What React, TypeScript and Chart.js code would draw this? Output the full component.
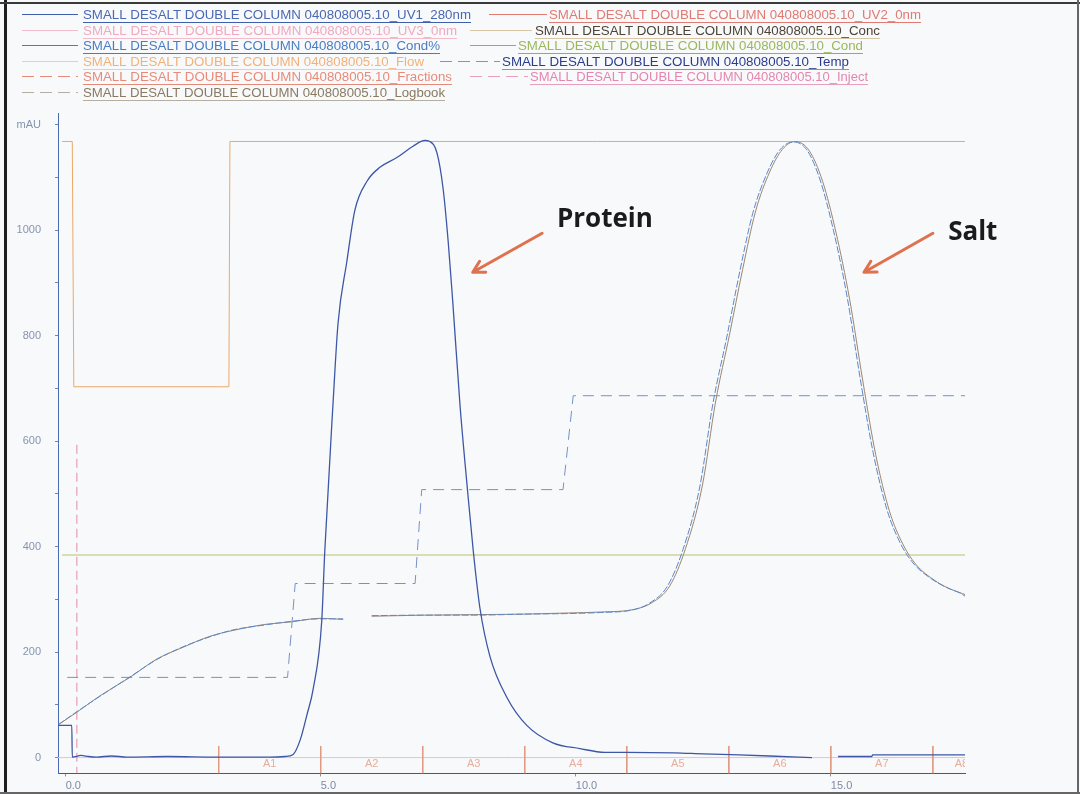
import React, { useEffect, useRef } from 'react';
import { Chart, registerables } from 'chart.js';

Chart.register(...registerables);

// ---------- data (x in ml, y in mAU) ----------
const uv1X = [-0.15, 0.12, 0.13, 0.3, 0.45, 0.6, 0.9, 1.2, 2.0, 3.0, 4.0, 4.3, 4.46, 4.6, 4.73, 4.85, 5.02, 5.08, 5.24, 5.34, 5.51, 5.67, 5.91, 6.16, 6.5, 6.81, 7.04, 7.14, 7.28, 7.4, 7.5, 7.59, 7.73, 7.87, 7.99, 8.12, 8.32, 8.65, 9.04, 9.55, 10.08, 10.57, 11.0, 11.93, 12.5, 13.2, 13.8, 14.63, 14.64, 15.14, 15.8, 15.82, 17.63];
const uv1Y = [61, 61, 1, 4, 2, 1, 3, 1, 2, 1, 1, 2, 6, 34, 81, 129, 259, 392, 669, 824, 939, 1038, 1093, 1119, 1138, 1159, 1170, 1168, 1146, 1078, 977, 862, 669, 515, 392, 284, 191, 114, 61, 28, 17, 10, 10, 9, 7, 5, 3, 0, null, 2, 2, 5, 5];

const condPctX = [-0.15, 0.22, 0.67, 1.26, 1.79, 2.3, 2.83, 3.28, 3.95, 4.4, 4.99, 5.44, 5.45, 6.0, 7.0, 8.0, 9.0, 9.8, 10.48, 11.12, 11.45, 11.79, 12.1, 12.43, 12.69, 12.96, 13.22, 13.47, 13.75, 14.0, 14.26, 14.53, 14.79, 15.05, 15.32, 15.58, 15.83, 16.1, 16.36, 16.61, 17.0, 17.28, 17.53, 17.63];
const condPctY = [62, 87, 116, 153, 186, 210, 229, 242, 252, 258, 263, 263, null, 269, 270, 270, 272, 273, 275, 280, 293, 324, 394, 513, 672, 797, 924, 1032, 1108, 1152, 1167, 1152, 1095, 1000, 873, 716, 578, 470, 407, 369, 337, 322, 312, 306];

const concX = [-0.15, 0.22, 0.67, 1.26, 1.79, 2.3, 2.83, 3.28, 3.95, 4.4, 4.99, 5.44, 5.45, 6.0, 7.0, 8.0, 9.0, 9.8, 10.5, 11.15, 11.5, 11.84, 12.15, 12.48, 12.74, 13.01, 13.27, 13.52, 13.8, 14.05, 14.3, 14.58, 14.84, 15.1, 15.37, 15.63, 15.88, 16.15, 16.41, 16.66, 17.05, 17.33, 17.58, 17.63];
const concY = [62, 86, 117, 152, 187, 209, 230, 241, 253, 257, 264, 262, null, 268, 270, 271, 272, 274, 276, 281, 294, 325, 396, 515, 674, 800, 925, 1034, 1110, 1153, 1168, 1150, 1092, 996, 868, 712, 574, 467, 405, 367, 335, 320, 311, 309];

const condX = [-0.07, 17.63];
const condY = [384, 384];

const flowX = [-0.07, 0.13, 0.16, 3.06, 3.2, 3.22, 17.63];
const flowY = [1168, 1168, 703, 703, 703, 1168, 1168];

const tempX = [0.03, 4.35, 4.5, 6.85, 6.98, 9.75, 9.95, 17.63];
const tempY = [152, 152, 330, 330, 508, 508, 686, 686];

const injectX = [0.22, 0.22];
const injectY = [593, -30];

const uv2X = [-0.15, 17.63];
const uv2Y = [0, 0];

const fractionTicks = [3, 5, 7, 9, 11, 13, 15, 17];
const fractionTickTop = 22;
const fractionTickBottom = -30;
const fractionLabels = ['A1', 'A2', 'A3', 'A4', 'A5', 'A6', 'A7', 'A8'];
const fractionLabelX = [4, 6, 8, 10, 12, 14, 16, 17.56];
const fractionLabelY = -13;

const xTickValues = [0, 5, 10, 15];
const xTickLabels = ['0.0', '5.0', '10.0', '15.0'];
const yTickValues = [0, 100, 200, 300, 400, 500, 600, 700, 800, 900, 1000, 1100, 1200];
const yTickLabels = ['0', '', '200', '', '400', '', '600', '', '800', '', '1000', '', 'mAU'];

const legendLeftNames = [
  'SMALL DESALT DOUBLE COLUMN 040808005.10_UV1_280nm',
  'SMALL DESALT DOUBLE COLUMN 040808005.10_UV3_0nm',
  'SMALL DESALT DOUBLE COLUMN 040808005.10_Cond%',
  'SMALL DESALT DOUBLE COLUMN 040808005.10_Flow',
  'SMALL DESALT DOUBLE COLUMN 040808005.10_Fractions',
  'SMALL DESALT DOUBLE COLUMN 040808005.10_Logbook',
];
const legendRightNames = [
  'SMALL DESALT DOUBLE COLUMN 040808005.10_UV2_0nm',
  'SMALL DESALT DOUBLE COLUMN 040808005.10_Conc',
  'SMALL DESALT DOUBLE COLUMN 040808005.10_Cond',
  'SMALL DESALT DOUBLE COLUMN 040808005.10_Temp',
  'SMALL DESALT DOUBLE COLUMN 040808005.10_Inject',
];

const annotationTexts = ['Protein', 'Salt'];
const annotationAt = [{ x: 9.63, y: 1019 }, { x: 17.3, y: 996 }];
const arrowFrom = [{ x: 9.34, y: 994 }, { x: 17.0, y: 994 }];
const arrowTo = [{ x: 7.98, y: 920 }, { x: 15.65, y: 920 }];

// ---------- styles ----------
const LEGEND_FONT = '12px "Liberation Sans", Arial, sans-serif';
const leftStyles = [
  { y: 16, line: [22, 78], text: [83, 471], color: '#3f5fae', textColor: '#4a68b4', dash: [] },
  { y: 31.5, line: [22, 78], text: [83, 457], color: '#f2bccb', textColor: '#f0a9bf', dash: [] },
  { y: 47, line: [22, 78], text: [83, 440], color: '#4a7cc4', textColor: '#4a7cc4', dash: [] },
  { y: 62.5, line: [22, 78], text: [83, 424], color: '#f3cda2', textColor: '#f0b27a', dash: [] },
  { y: 78, line: [22, 78], text: [83, 452], color: '#e58a78', textColor: '#e88a78', dash: [12, 6] },
  { y: 93.5, line: [22, 78], text: [83, 445], color: '#b5aea2', textColor: '#8a7a60', dash: [12, 6] },
];
const rightStyles = [
  { y: 16, line: [489, 547], text: [549, 921], color: '#e07a72', textColor: '#e07a72', dash: [] },
  { y: 31.5, line: [470, 532], text: [535, 880], color: '#d6c6a6', textColor: '#4e4436', dash: [] },
  { y: 47, line: [470, 516], text: [518, 863], color: '#93b24e', textColor: '#9ab85a', dash: [] },
  { y: 62.5, line: [440, 500], text: [502, 849], color: '#7a96cc', textColor: '#2c3c8c', dash: [12, 6] },
  { y: 78, line: [470, 528], text: [530, 868], color: '#e6a0bc', textColor: '#e486b0', dash: [12, 6] },
];

const zip = (xs: number[], ys: (number | null)[]) =>
  xs.map((x, i) => ({ x, y: ys[i] }));

function fractionData() {
  const pts: { x: number; y: number | null }[] = [];
  fractionTicks.forEach((f) => {
    pts.push({ x: f, y: fractionTickTop });
    pts.push({ x: f, y: fractionTickBottom });
    pts.push({ x: f, y: null });
  });
  return pts;
}

function drawLegendItem(ctx: CanvasRenderingContext2D, name: string, s: any) {
  ctx.save();
  ctx.lineWidth = 1;
  ctx.strokeStyle = s.color;
  ctx.setLineDash(s.dash);
  ctx.beginPath();
  ctx.moveTo(s.line[0], Math.round(s.y - 2) + 0.5);
  ctx.lineTo(s.line[1], Math.round(s.y - 2) + 0.5);
  ctx.stroke();
  ctx.setLineDash([]);
  ctx.font = LEGEND_FONT;
  const w = ctx.measureText(name).width;
  const target = s.text[1] - s.text[0];
  ctx.save();
  ctx.translate(s.text[0], s.y);
  ctx.scale(target / w, 1);
  ctx.fillStyle = s.textColor;
  ctx.textBaseline = 'middle';
  ctx.textAlign = 'left';
  ctx.fillText(name, 0, 0);
  ctx.restore();
  ctx.beginPath();
  ctx.moveTo(s.text[0], Math.round(s.y + 6) + 0.5);
  ctx.lineTo(s.text[1], Math.round(s.y + 6) + 0.5);
  ctx.stroke();
  ctx.restore();
}

const framePlugin = {
  id: 'frame',
  beforeDraw(chart: any) {
    const ctx = chart.ctx as CanvasRenderingContext2D;
    const { width, height } = chart;
    ctx.save();
    ctx.fillStyle = '#f8f9fb';
    ctx.fillRect(0, 0, width, height);
    ctx.fillStyle = '#1e1e1e';
    ctx.fillRect(4, 0, 3, height);
    ctx.fillStyle = '#3a3a3a';
    ctx.fillRect(0, 2, width, 2);
    ctx.fillStyle = '#666';
    ctx.fillRect(width - 3, 0, 2, height);
    ctx.fillRect(0, height - 2, width, 2);
    ctx.restore();
  },
};

const overlayPlugin = {
  id: 'overlay',
  afterDraw(chart: any) {
    const ctx = chart.ctx as CanvasRenderingContext2D;
    const xs = chart.scales.x;
    const ys = chart.scales.y;
    const area = chart.chartArea;

    // legend
    legendLeftNames.forEach((n, i) => drawLegendItem(ctx, n, leftStyles[i]));
    legendRightNames.forEach((n, i) => drawLegendItem(ctx, n, rightStyles[i]));

    // fraction labels
    ctx.save();
    ctx.beginPath();
    ctx.rect(area.left, area.top, area.right - area.left, area.bottom - area.top);
    ctx.clip();
    ctx.font = '11px "Liberation Sans", Arial, sans-serif';
    ctx.fillStyle = '#e9ad9a';
    ctx.textAlign = 'center';
    ctx.textBaseline = 'middle';
    fractionLabels.forEach((lab, i) => {
      ctx.fillText(lab, xs.getPixelForValue(fractionLabelX[i]), ys.getPixelForValue(fractionLabelY));
    });
    ctx.restore();

    // annotations
    ctx.save();
    ctx.font = 'bold 26px "Open Sans", "DejaVu Sans", sans-serif';
    ctx.fillStyle = '#1b1b1b';
    ctx.textAlign = 'left';
    ctx.textBaseline = 'middle';
    annotationTexts.forEach((t, i) => {
      ctx.fillText(t, xs.getPixelForValue(annotationAt[i].x), ys.getPixelForValue(annotationAt[i].y));
    });
    ctx.strokeStyle = '#e0714f';
    ctx.lineWidth = 3;
    ctx.lineCap = 'round';
    ctx.lineJoin = 'round';
    arrowFrom.forEach((f, i) => {
      const x0 = xs.getPixelForValue(f.x);
      const y0 = ys.getPixelForValue(f.y);
      const x1 = xs.getPixelForValue(arrowTo[i].x);
      const y1 = ys.getPixelForValue(arrowTo[i].y);
      const ang = Math.atan2(y0 - y1, x0 - x1);
      const hl = 13;
      const spread = 0.5;
      ctx.beginPath();
      ctx.moveTo(x0, y0);
      ctx.lineTo(x1, y1);
      ctx.moveTo(x1 + hl * Math.cos(ang - spread), y1 + hl * Math.sin(ang - spread));
      ctx.lineTo(x1, y1);
      ctx.lineTo(x1 + hl * Math.cos(ang + spread), y1 + hl * Math.sin(ang + spread));
      ctx.stroke();
    });
    ctx.restore();
  },
};

export default function App() {
  const ref = useRef<HTMLCanvasElement | null>(null);

  useEffect(() => {
    if (!ref.current) return;
    const line = (label: string, data: any[], color: string, extra: any = {}) => ({
      label,
      data,
      borderColor: color,
      backgroundColor: color,
      borderWidth: 1,
      pointRadius: 0,
      fill: false,
      spanGaps: false,
      tension: 0,
      ...extra,
    });
    const smooth = { cubicInterpolationMode: 'monotone' };
    const datasets = [
      line('UV1_280nm', zip(uv1X, uv1Y), '#3d57a6', { borderWidth: 1.3, order: 0, ...smooth }),
      line('Cond%', zip(condPctX, condPctY), '#5a88cc', { order: 1, borderDash: [7, 2], ...smooth }),
      line('Conc', zip(concX, concY), '#9c8672', { order: 2, ...smooth }),
      line('Temp', zip(tempX, tempY), '#7790cc', { order: 3, borderDash: [11, 7] }),
      line('Flow', zip(flowX, flowY), '#eba86a', { order: 4 }),
      line('Cond', zip(condX, condY), '#b8c26c', { order: 5 }),
      line('Inject', zip(injectX, injectY), '#e68aa8', { order: 6, borderDash: [9, 5] }),
      line('Fractions', fractionData(), '#e09a82', { order: 7 }),
      line('UV2_0nm', zip(uv2X, uv2Y), '#efc2ba', { order: 8 }),
    ];

    const chart = new Chart(ref.current, {
      type: 'line',
      data: { datasets } as any,
      options: {
        responsive: false,
        animation: false,
        devicePixelRatio: 1,
        parsing: true,
        layout: { padding: { left: 0, top: 113, right: 115, bottom: 0 } },
        plugins: { legend: { display: false }, tooltip: { enabled: false } },
        scales: {
          x: {
            type: 'linear',
            min: -0.15,
            max: 17.63,
            afterBuildTicks: (a: any) => {
              a.ticks = xTickValues.map((v) => ({ value: v }));
            },
            afterFit: (s: any) => {
              s.height = 20;
            },
            grid: { drawOnChartArea: false, drawTicks: true, tickLength: 3, color: '#8a8f99' },
            border: { color: '#55595f', width: 1 },
            ticks: {
              align: 'start',
              padding: 3,
              maxRotation: 0,
              autoSkip: false,
              color: '#7d8aa6',
              font: { size: 11, family: '"Liberation Sans", Arial, sans-serif' },
              callback: (v: any) => {
                const i = xTickValues.indexOf(Number(v));
                return i >= 0 ? xTickLabels[i] : '';
              },
            },
          },
          y: {
            type: 'linear',
            min: -30,
            max: 1222,
            afterBuildTicks: (a: any) => {
              a.ticks = yTickValues.map((v) => ({ value: v }));
            },
            afterFit: (s: any) => {
              s.width = 58;
            },
            grid: { drawOnChartArea: false, drawTicks: true, tickLength: 3, color: '#6a84bf' },
            border: { color: '#4d6bb2', width: 1 },
            ticks: {
              padding: 14,
              autoSkip: false,
              color: '#8594ae',
              font: { size: 11, family: '"Liberation Sans", Arial, sans-serif' },
              callback: (v: any) => {
                const i = yTickValues.indexOf(Number(v));
                return i >= 0 ? yTickLabels[i] : '';
              },
            },
          },
        },
      } as any,
      plugins: [framePlugin, overlayPlugin],
    });
    return () => chart.destroy();
  }, []);

  return (
    <canvas
      ref={ref}
      width={1080}
      height={794}
      style={{ position: 'absolute', left: 0, top: 0, width: 1080, height: 794, display: 'block' }}
    />
  );
}
